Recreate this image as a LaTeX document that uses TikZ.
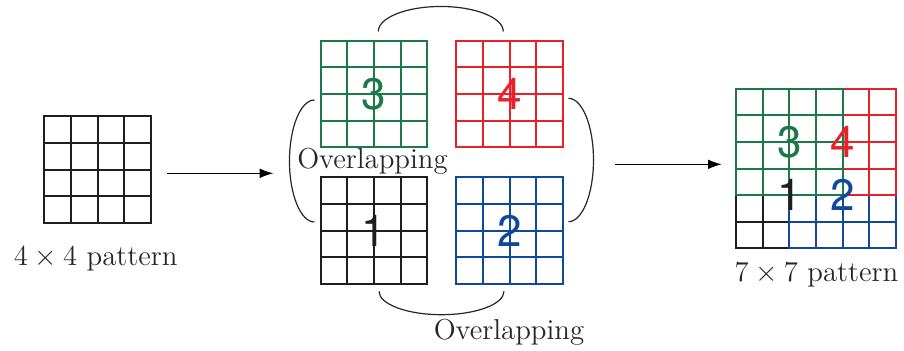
\documentclass[tikz,border=0pt]{standalone}
\usepackage{amsmath,amssymb}
\usepackage{fontspec}
\usepackage{tikz}
\usetikzlibrary{arrows.meta,positioning}
\newfontfamily\digitfont{TeX Gyre Heros}
\definecolor{pgreen}{RGB}{28,122,72}
\definecolor{pred}{RGB}{232,32,42}
\definecolor{pblue}{RGB}{16,72,158}
\definecolor{pblack}{RGB}{30,30,30}
\newcommand{\cellw}{13.33pt}
\tikzset{
  patgrid/.style={draw=#1,text=#1,line width=1pt,minimum size=53.33pt,inner sep=0pt,
    font=\digitfont\fontsize{22}{26}\selectfont,
    path picture={\foreach \k in {1,2,3}{
      \draw[#1,line width=1pt] ([xshift=\k*\cellw]path picture bounding box.south west) -- ([xshift=\k*\cellw]path picture bounding box.north west);
      \draw[#1,line width=1pt] ([yshift=\k*\cellw]path picture bounding box.south west) -- ([yshift=\k*\cellw]path picture bounding box.south east);}}},
  numlbl/.style={font=\digitfont\fontsize{22}{26}\selectfont,inner sep=0pt},
  caption/.style={font=\Large,anchor=base,text=black!85},
  bracket/.style={line width=0.6pt,draw=black!85},
  flow/.style={-{Latex[length=6.8pt,width=4.8pt]},line width=0.5pt}
}

\begin{document}
\begin{tikzpicture}[x=5pt,y=5pt]
\useasboundingbox (0,0) rectangle (90.4,35);
% single pattern
\node[patgrid=pblack] (src) at (9.77,18.03) {};
\node[caption] (srccap) at (9.57,8.5) {$4\times 4$ pattern};
% four overlapping copies
\node[patgrid=pgreen] (g3) at (37.4,25.6) {3};
\node[patgrid=pred,right=13.5pt of g3] (g4) {4};
\node[patgrid=pblack,below=14pt of g3] (g1) {1};
\node[patgrid=pblue,right=13.5pt of g1] (g2) {2};
\draw[bracket] ([xshift=2.15pt,yshift=4.1pt]g3.north) arc[start angle=180,end angle=0,x radius=31.25pt,y radius=12.5pt];
\draw[bracket] ([xshift=2.5pt,yshift=-3.15pt]g1.south) arc[start angle=180,end angle=360,x radius=31.25pt,y radius=11.7pt];
\draw[bracket] ([xshift=-2.6pt,yshift=-3pt]g3.west) arc[start angle=90,end angle=270,x radius=12.5pt,y radius=30.5pt];
\draw[bracket] ([xshift=2.25pt,yshift=-2.15pt]g4.east) arc[start angle=90,end angle=-90,x radius=12.5pt,y radius=30.85pt];
\node[caption] (ovleft) at (37.25,18.2) {Overlapping};
\node[caption] (ovbottom) at (50.9,1.1) {Overlapping};
% arrows
\coordinate (a1s) at (16.67,17.67);
\coordinate (a1e) at (27.33,17.67);
\coordinate (a2s) at (61.5,18.57);
\coordinate (a2e) at (72.17,18.57);
\draw[flow] (a1s) -- (a1e);
\draw[flow] (a2s) -- (a2e);
% merged pattern
\coordinate (mix) at (81.61,18.15);
\node[patgrid=pblack] (m1) at ([shift={(-13.33pt,-13.33pt)}]mix) {};
\node[patgrid=pblue] (m2) at ([shift={(13.33pt,-13.33pt)}]mix) {};
\node[patgrid=pred] (m4) at ([shift={(13.33pt,13.33pt)}]mix) {};
\node[patgrid=pgreen] (m3) at ([shift={(-13.33pt,13.33pt)}]mix) {};
\node[numlbl,text=pgreen] (n3) at (m3) {3};
\node[numlbl,text=pred] (n4) at (m4) {4};
\node[numlbl,text=pblack] (n1) at (m1) {1};
\node[numlbl,text=pblue] (n2) at (m2) {2};
\node[caption] (mixcap) at (81.65,6.9) {$7\times 7$ pattern};
\end{tikzpicture}
\end{document}
